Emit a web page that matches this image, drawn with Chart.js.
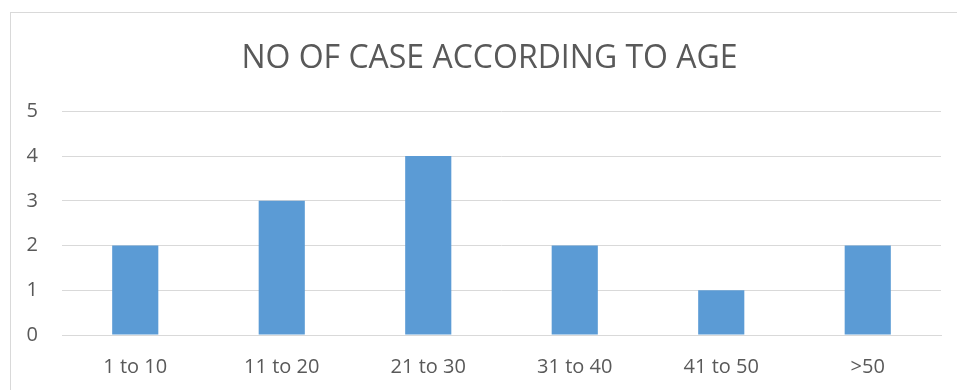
<!DOCTYPE html>
<html>
<head>
<meta charset="utf-8">
<script src="https://cdn.jsdelivr.net/npm/chart.js@4/dist/chart.umd.min.js"></script>
<style>
  html, body { margin: 0; padding: 0; background: #fff; overflow: hidden; }
  #wrap { position: relative; width: 957px; height: 390px; }
  #frame { position: absolute; left: 10px; top: 12px; width: 980px; height: 420px; border: 1px solid #d9d9d9; box-sizing: border-box; }
  canvas { position: absolute; left: 0; top: 0; }
</style>
</head>
<body>
<div id="wrap">
  <div id="frame"></div>
  <canvas id="myChart" width="957" height="390"></canvas>
</div>
<script>
// age groups and number of cases
var ageGroups = ["1 to 10", "11 to 20", "21 to 30", "31 to 40", "41 to 50", ">50"];
var cases = [2, 3, 4, 2, 1, 2];
var yMax = 5;
var yStep = 1;

var font = "Open Sans, 'Liberation Sans', sans-serif";
var grey = '#595959';

// title in the original sits centred over the plot a bit to the right
var titleShift = {
    id: 'titleShift',
    afterLayout: function (chart) {
        if (chart.titleBlock) chart.titleBlock.left += 18;
    }
};

var ctx = document.getElementById('myChart').getContext('2d');
var chart = new Chart(ctx, {
    type: 'bar',
    data: {
        labels: ageGroups,
        datasets: [{
            label: 'cases',
            backgroundColor: '#5b9bd5',
            data: cases,
            categoryPercentage: 1,
            barPercentage: 0.315
        }]
    },
    plugins: [titleShift],
    options: {
        responsive: false,
        animation: false,
        layout: { padding: { left: 20, right: 16, top: 0, bottom: 0 } },
        plugins: {
            legend: { display: false },
            tooltip: { enabled: false },
            title: {
                display: true,
                text: 'NO OF CASE ACCORDING TO AGE',
                color: grey,
                font: { family: font, size: 32, weight: 'normal' },
                padding: { top: 40, bottom: 33 }
            }
        },
        scales: {
            x: {
                grid: { display: false, drawTicks: false },
                border: { display: true, color: '#d9d9d9', width: 1 },
                ticks: { color: grey, padding: 20, font: { family: font, size: 20 } },
                afterFit: function (axis) { axis.height = 55; }
            },
            y: {
                min: 0,
                max: yMax,
                grid: { color: '#d9d9d9', drawTicks: false },
                border: { display: false },
                ticks: { stepSize: yStep, color: grey, padding: 24, font: { family: font, size: 20 } },
                afterFit: function (axis) { axis.width = 42; }
            }
        }
    }
});
</script>
</body>
</html>
